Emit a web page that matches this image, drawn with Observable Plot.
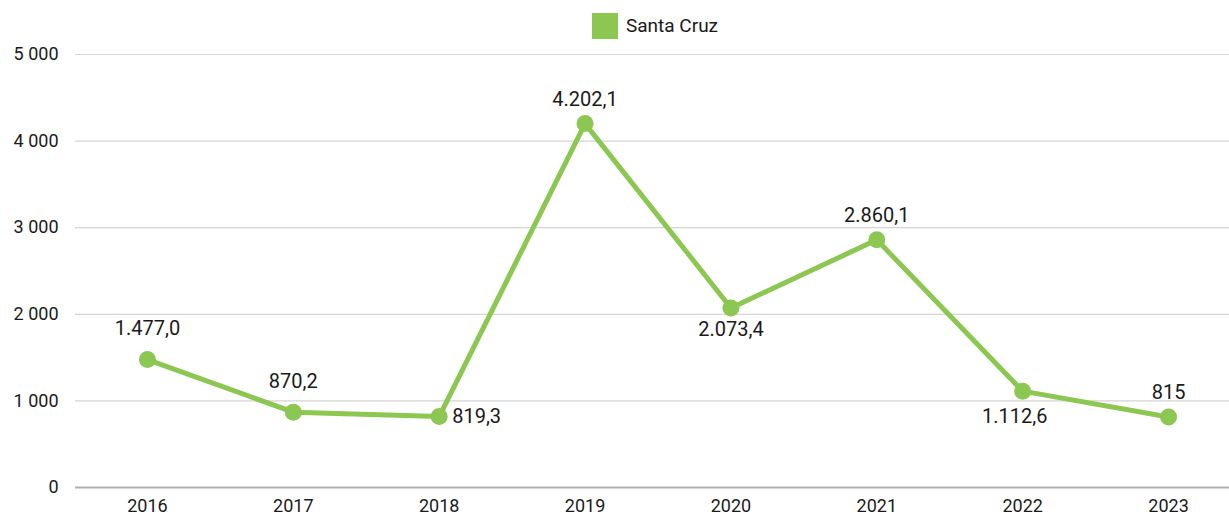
<!DOCTYPE html>
<html>
<head>
<meta charset="utf-8">
<script src="https://cdn.jsdelivr.net/npm/d3@7"></script>
<script src="https://cdn.jsdelivr.net/npm/@observablehq/plot@0.6"></script>
<style>
  html, body { margin: 0; padding: 0; background: #fff; }
  body { width: 1229px; height: 515px; overflow: hidden; font-family: Roboto, sans-serif; }
  #legend { box-sizing: border-box; height: 40px; padding-top: 13px; padding-left: 81px; display: flex; align-items: flex-start; justify-content: center; font-size: 19px; line-height: 26px; color: #1a1a1a; }
  #legend .sw { width: 26px; height: 26px; background: #8bc751; margin-right: 8px; }
  svg { display: block; }
</style>
</head>
<body>
<div id="legend"><span class="sw"></span><span id="legendName"></span></div>
<div id="chart"></div>
<script>
const seriesName = "Santa Cruz";
const years = ["2016", "2017", "2018", "2019", "2020", "2021", "2022", "2023"];
const values = [1477.0, 870.2, 819.3, 4202.1, 2073.4, 2860.1, 1112.6, 815];
const valueLabels = ["1.477,0", "870,2", "819,3", "4.202,1", "2.073,4", "2.860,1", "1.112,6", "815"];
const labelPlacement = ["above", "above", "right", "above-near", "below", "above-near", "below-left", "above-near"];
const yTicks = [0, 1000, 2000, 3000, 4000, 5000];

document.getElementById("legendName").textContent = seriesName;
const color = "#8bc751";
const data = years.map((y, i) => ({year: y, value: values[i], label: valueLabels[i], place: labelPlacement[i]}));
const loc = d3.formatLocale({thousands: " ", grouping: [3], decimal: ",", currency: ["", ""]});
const yFmt = loc.format(",d");
const lab = {x: "year", y: "value", text: "label", fontSize: 20, fill: "#1a1a1a"};

const chart = Plot.plot({
  width: 1229,
  height: 475,
  marginTop: 14,
  marginBottom: 28,
  marginLeft: 75,
  marginRight: 0,
  style: {fontFamily: "Roboto, sans-serif", fontSize: "18px", color: "#1a1a1a", background: "#fff"},
  x: {type: "point", domain: years, padding: 0.5, round: false, insetLeft: -1, insetRight: -12, label: null},
  y: {domain: [0, 5000], label: null},
  marks: [
    Plot.ruleY(yTicks.filter(d => d > 0), {stroke: "#d4d4d4", strokeWidth: 1.2}),
    Plot.ruleY([0], {stroke: "#b0b0b0", strokeWidth: 2}),
    Plot.axisY({ticks: yTicks, tickFormat: yFmt, tickSize: 0, tickPadding: 17, fontSize: 18, fill: "#1a1a1a"}),
    Plot.axisX({tickSize: 0, tickPadding: 12, fontSize: 18, fill: "#1a1a1a"}),
    Plot.line(data, {x: "year", y: "value", stroke: color, strokeWidth: 5}),
    Plot.dot(data, {x: "year", y: "value", r: 8.5, fill: color}),
    Plot.text(data.filter(d => d.place === "above"), {...lab, dy: -31}),
    Plot.text(data.filter(d => d.place === "above-near"), {...lab, dy: -24}),
    Plot.text(data.filter(d => d.place === "below"), {...lab, dy: 22}),
    Plot.text(data.filter(d => d.place === "below-left"), {...lab, dy: 25, dx: -8}),
    Plot.text(data.filter(d => d.place === "right"), {...lab, dx: 13, textAnchor: "start"})
  ]
});
document.getElementById("chart").appendChild(chart);
</script>
</body>
</html>
